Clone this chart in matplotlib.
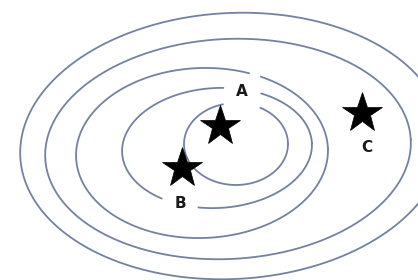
import numpy as np
import matplotlib.pyplot as plt

# contour ellipses (pixel coords, y down): centre, semi-axes, tilt in degrees
cx = [232, 228, 202, 217, 236]
cy = [146, 149, 153, 148, 144]
ax_a = [212, 183, 126, 95, 52]
ax_b = [133, 110, 85, 60, 41]
tilt = [-3, -3, -2, -3, 0]

# gaps in the rings: (ring index, side, x from, x to)
gaps = [(2, "top", 250, 260), (3, "top", 224, 261), (4, "top", 223, 260),
        (3, "bottom", 162, 198)]

# stars and their labels
star_x = [220, 182, 362]
star_y = [126, 168, 113]
labels = ["A", "B", "C"]
label_x = [242, 180, 367]
label_y = [92, 203, 147]

fig = plt.figure(figsize=(4.18, 2.80), dpi=100)
ax = fig.add_axes([0, 0, 1, 1])
ax.set_xlim(0, 418)
ax.set_ylim(280, 0)
ax.axis("off")

t = np.linspace(0, 2 * np.pi, 800)
for i in range(len(cx)):
    ang = np.radians(tilt[i])
    ex = ax_a[i] * np.cos(t)
    ey = ax_b[i] * np.sin(t)
    x = cx[i] + ex * np.cos(ang) - ey * np.sin(ang)
    y = cy[i] + ex * np.sin(ang) + ey * np.cos(ang)
    for g in gaps:
        if g[0] != i:
            continue
        side = y < cy[i] if g[1] == "top" else y > cy[i]
        mask = side & (x > g[2]) & (x < g[3])
        x = np.where(mask, np.nan, x)
    ax.plot(x, y, color="#7282a0", lw=1.3, solid_capstyle="round")

ax.plot(star_x, star_y, "*", color="black", ms=30, mec="black", mew=0.5, ls="none")

for i in range(len(labels)):
    ax.text(label_x[i], label_y[i], labels[i], fontsize=11, fontweight="bold",
            ha="center", va="center", color="#1a1a1a")

fig.savefig("out.png", dpi=100)
